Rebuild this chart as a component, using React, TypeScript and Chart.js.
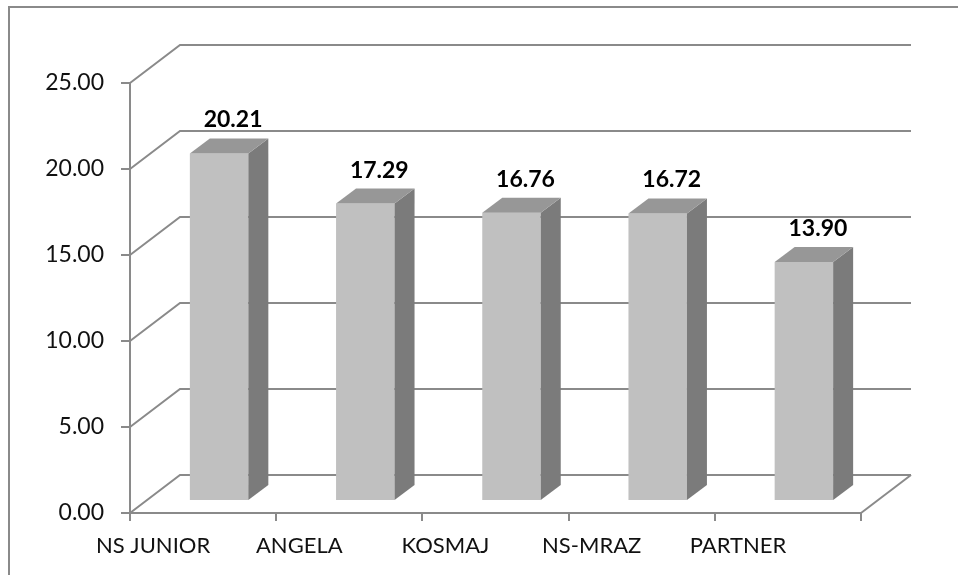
import React, { useEffect, useRef } from "react";
import { Chart, registerables } from "chart.js";

Chart.register(...registerables);

const categories = ["NS JUNIOR", "ANGELA", "KOSMAJ", "NS-MRAZ", "PARTNER"];
const values = [20.21, 17.29, 16.76, 16.72, 13.9];
const yTicks = [0, 5, 10, 15, 20, 25];

const FONT = "Lato";
const GRID = "#8a8a8a";
const WALL_DX = 50;
const WALL_DY = -38;
const BAR_SHIFT_X = 16;
const BAR_SHIFT_Y = -12;
const BAR_DX = 20;
const BAR_DY = -15;

const threeD = {
  id: "threeD",
  beforeDatasetsDraw(chart: any) {
    const ctx = chart.ctx;
    const ys = chart.scales.y;
    const xs = chart.scales.x;
    const left = xs.left;
    const right = xs.right;
    ctx.save();
    ctx.strokeStyle = GRID;
    ctx.lineWidth = 2;
    for (const t of yTicks) {
      const py = ys.getPixelForValue(t);
      ctx.beginPath();
      ctx.moveTo(left, py);
      ctx.lineTo(left + WALL_DX, py + WALL_DY);
      ctx.lineTo(right + WALL_DX, py + WALL_DY);
      ctx.stroke();
    }
    const p0 = ys.getPixelForValue(0);
    ctx.beginPath();
    ctx.moveTo(right, p0);
    ctx.lineTo(right + WALL_DX, p0 + WALL_DY);
    ctx.stroke();
    ctx.restore();
    ctx.save();
    ctx.translate(BAR_SHIFT_X, BAR_SHIFT_Y);
  },
  afterDatasetsDraw(chart: any) {
    const ctx = chart.ctx;
    ctx.restore();
    const meta = chart.getDatasetMeta(0);
    ctx.save();
    meta.data.forEach((bar: any, i: number) => {
      const w = bar.width;
      const l = bar.x - w / 2 + BAR_SHIFT_X;
      const r = bar.x + w / 2 + BAR_SHIFT_X;
      const t = bar.y + BAR_SHIFT_Y;
      const b = bar.base + BAR_SHIFT_Y;
      ctx.fillStyle = "#7b7b7b";
      ctx.beginPath();
      ctx.moveTo(r, t);
      ctx.lineTo(r + BAR_DX, t + BAR_DY);
      ctx.lineTo(r + BAR_DX, b + BAR_DY);
      ctx.lineTo(r, b);
      ctx.closePath();
      ctx.fill();
      ctx.fillStyle = "#979797";
      ctx.beginPath();
      ctx.moveTo(l, t);
      ctx.lineTo(l + BAR_DX, t + BAR_DY);
      ctx.lineTo(r + BAR_DX, t + BAR_DY);
      ctx.lineTo(r, t);
      ctx.closePath();
      ctx.fill();
      ctx.fillStyle = "#000";
      ctx.font = `bold 23px "${FONT}"`;
      ctx.textAlign = "center";
      ctx.textBaseline = "alphabetic";
      ctx.fillText(values[i].toFixed(2), (l + r + BAR_DX) / 2 + 4, t + BAR_DY - 11);
    });
    ctx.restore();
  },
};

export default function App() {
  const ref = useRef<HTMLCanvasElement>(null);
  useEffect(() => {
    if (!ref.current) return;
    const chart = new Chart(ref.current, {
      type: "bar",
      data: {
        labels: categories,
        datasets: [
          {
            data: values,
            backgroundColor: "#c0c0c0",
            borderWidth: 0,
            barPercentage: 0.4,
            categoryPercentage: 1,
            clip: false as any,
          },
        ],
      },
      plugins: [threeD],
      options: {
        animation: false,
        responsive: false,
        maintainAspectRatio: false,
        layout: { padding: { left: 0, right: 97, top: 83, bottom: 0 } },
        plugins: { legend: { display: false }, tooltip: { enabled: false } },
        scales: {
          x: {
            type: "category",
            offset: true,
            afterFit: (s: any) => {
              s.height = 62;
            },
            grid: {
              offset: true,
              drawOnChartArea: false,
              drawTicks: true,
              tickLength: 8,
              color: GRID,
              lineWidth: 2,
            },
            border: { display: true, color: GRID, width: 2 },
            ticks: {
              color: "#111",
              font: { family: FONT, size: 22 },
              labelOffset: -50,
              padding: 12,
              maxRotation: 0,
              autoSkip: false,
            },
          },
          y: {
            min: 0,
            max: 25,
            afterFit: (s: any) => {
              s.width = 130;
            },
            grid: {
              drawOnChartArea: false,
              drawTicks: true,
              tickLength: 9,
              color: GRID,
              lineWidth: 2,
            },
            border: { display: true, color: GRID, width: 2 },
            ticks: {
              stepSize: 5,
              color: "#111",
              font: { family: FONT, size: 23 },
              padding: 17,
              callback: (v: any) => Number(v).toFixed(2),
            },
          },
        },
      },
    });
    return () => chart.destroy();
  }, []);
  return (
    <div style={{ position: "fixed", left: 0, top: 0, width: 958, height: 575, background: "#fff" }}>
      <div
        style={{
          position: "absolute",
          left: 8,
          top: 6,
          width: 960,
          height: 580,
          borderLeft: "2px solid #8a8a8a",
          borderTop: "2px solid #8a8a8a",
        }}
      />
      <canvas ref={ref} width={958} height={575} style={{ position: "absolute", left: 0, top: 0 }} />
    </div>
  );
}
